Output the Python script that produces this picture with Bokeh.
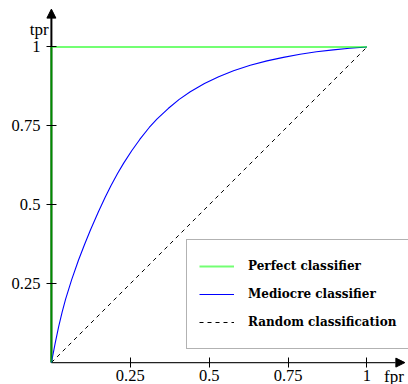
from bokeh.plotting import figure
from bokeh.models import Range1d, FixedTicker, Arrow, NormalHead, Label, Legend, LegendItem
from bokeh.embed import file_html
from bokeh.resources import INLINE

# ---- data ----
perfect_fpr = [0, 0, 1]
perfect_tpr = [0, 1, 1]

mediocre_fpr = [0, 0.012, 0.023, 0.034, 0.045, 0.064, 0.086, 0.105, 0.124, 0.149,
                0.17, 0.189, 0.21, 0.229, 0.255, 0.28, 0.31, 0.335, 0.37, 0.405,
                0.44, 0.485, 0.53, 0.577, 0.63, 0.683, 0.735, 0.788, 0.84, 0.893,
                0.945, 1.0]
mediocre_tpr = [0, 0.062, 0.114, 0.16, 0.201, 0.262, 0.325, 0.374, 0.421, 0.478,
                0.523, 0.561, 0.6, 0.632, 0.672, 0.707, 0.745, 0.772, 0.805, 0.834,
                0.858, 0.884, 0.906, 0.925, 0.942, 0.956, 0.967, 0.977, 0.985, 0.991,
                0.996, 1.0]

random_fpr = [0, 1]
random_tpr = [0, 1]

tick_values = [0.25, 0.5, 0.75, 1]
tick_labels = ["0.25", "0.5", "0.75", "1"]
series_names = ["Perfect classifier", "Mediocre classifier", "Random classification"]

SERIF = "Liberation Serif"

p = figure(width=408, height=384,
           x_range=Range1d(-0.1613, 1.1315), y_range=Range1d(-0.0694, 1.1473),
           min_border_left=0, min_border_right=0, min_border_top=0, min_border_bottom=0,
           toolbar_location=None, output_backend="svg", outline_line_color=None,
           background_fill_color="white", border_fill_color="white")
p.grid.visible = False

# axis arrows (drawn under the data lines)
p.add_layout(Arrow(end=NormalHead(size=9, fill_color="black", line_color="black", line_width=1),
                   x_start=0, y_start=0, x_end=1.12, y_end=0,
                   line_color="#222222", line_width=1.2, level="underlay"))
p.add_layout(Arrow(end=NormalHead(size=9, fill_color="black", line_color="black", line_width=1),
                   x_start=0, y_start=0, x_end=0, y_end=1.12,
                   line_color="black", line_width=2, level="underlay"))

r_rand = p.line(random_fpr, random_tpr, line_color="black", line_width=1, line_dash="4 4")
r_med = p.line(mediocre_fpr, mediocre_tpr, line_color="blue", line_width=1.1)
r_perf = p.line(perfect_fpr, perfect_tpr, line_color="lime", line_alpha=0.55, line_width=2)

overrides = dict(zip(tick_values, tick_labels))
for ax in (p.xaxis[0], p.yaxis[0]):
    ax.fixed_location = 0
    ax.ticker = FixedTicker(ticks=tick_values)
    ax.major_label_overrides = overrides
    ax.axis_line_color = None
    ax.major_tick_in = 5
    ax.major_tick_out = 5
    ax.major_tick_line_color = "black"
    ax.major_tick_line_width = 1
    ax.minor_tick_line_color = None
    ax.major_label_text_font = SERIF
    ax.major_label_text_font_size = "16.5px"
    ax.major_label_text_color = "black"
p.xaxis.major_label_standoff = 2
p.yaxis.major_label_standoff = 6

p.add_layout(Label(x=-0.009, y=1.054, text="tpr", text_align="right", text_baseline="alphabetic",
                   text_font=SERIF, text_font_size="17px", text_color="black"))
p.add_layout(Label(x=1.054, y=-0.044, text="fpr", text_align="left", text_baseline="alphabetic",
                   text_font=SERIF, text_font_size="17px", text_color="black"))

legend = Legend(items=[LegendItem(label=series_names[0], renderers=[r_perf]),
                       LegendItem(label=series_names[1], renderers=[r_med]),
                       LegendItem(label=series_names[2], renderers=[r_rand])],
                location=(186, 35), orientation="vertical",
                border_line_color="#666666", border_line_width=1.5,
                background_fill_color="white", background_fill_alpha=1,
                padding=12, spacing=0, margin=0,
                glyph_width=35, glyph_height=28, label_height=28, label_width=200,
                label_standoff=14,
                label_text_font="DejaVu Serif", label_text_font_style="bold",
                label_text_font_size="12px", label_text_color="black")
p.add_layout(legend)

open("out.html", "w").write(file_html(p, INLINE))
